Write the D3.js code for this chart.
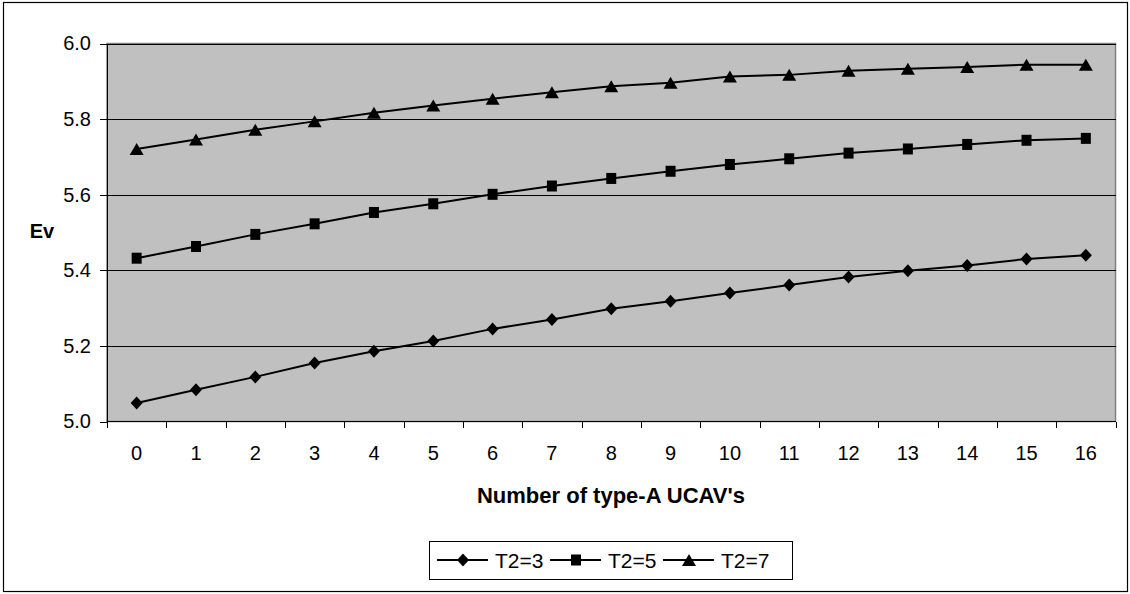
<!DOCTYPE html>
<meta charset="utf-8">
<style>
body { margin: 0; background: #fff; }
text { font-family: Arial, "Liberation Sans", sans-serif; fill: #000; }
.axis path, .axis line { fill: none; stroke: #000; shape-rendering: crispEdges; }
.grid line { stroke: #000; shape-rendering: crispEdges; }
</style>
<body>
<svg></svg>
<script src="https://cdnjs.cloudflare.com/ajax/libs/d3/7.8.5/d3.min.js"></script>
<script>

var categories = d3.range(0, 17);
var seriesNames = ["T2=3", "T2=5", "T2=7"];
var t2_3 = [5.049, 5.084, 5.118, 5.155, 5.186, 5.213, 5.245, 5.270, 5.298, 5.318, 5.340, 5.361, 5.382, 5.399, 5.413, 5.430, 5.440];
var t2_5 = [5.432, 5.463, 5.495, 5.523, 5.553, 5.576, 5.601, 5.623, 5.643, 5.662, 5.680, 5.695, 5.710, 5.721, 5.733, 5.744, 5.749];
var t2_7 = [5.721, 5.746, 5.772, 5.794, 5.817, 5.836, 5.854, 5.871, 5.887, 5.896, 5.913, 5.917, 5.928, 5.933, 5.938, 5.944, 5.944];
var yTicks = [5.0, 5.2, 5.4, 5.6, 5.8, 6.0];

var W = 1130, H = 594;
var plot = {left: 107, right: 1115.5, top: 43.5, bottom: 421.5};

var svg = d3.select("svg").attr("width", W).attr("height", H);

// outer frame
svg.append("rect")
    .attr("x", 3.5).attr("y", 2.5)
    .attr("width", 1124).attr("height", 589)
    .attr("fill", "#fff").attr("stroke", "#000").attr("stroke-width", 1.2);

var x = d3.scaleBand().domain(categories).range([plot.left, plot.right]).padding(0);
var y = d3.scaleLinear().domain([5, 6]).range([plot.bottom, plot.top]);

// plot background
svg.append("rect")
    .attr("x", plot.left).attr("y", plot.top)
    .attr("width", plot.right - plot.left).attr("height", plot.bottom - plot.top)
    .attr("fill", "#c0c0c0").attr("stroke", "#808080").attr("stroke-width", 1.5);

// gridlines
svg.append("g").attr("class", "grid")
  .selectAll("line").data(yTicks.slice(1)).enter().append("line")
    .attr("x1", plot.left).attr("x2", plot.right)
    .attr("y1", function(d) { return Math.round(y(d)) + 0.5; })
    .attr("y2", function(d) { return Math.round(y(d)) + 0.5; })
    .attr("stroke-width", 1);

// y axis
var yAxis = d3.axisLeft(y).tickValues(yTicks).tickFormat(d3.format(".1f")).tickSizeOuter(0).tickSize(7).tickPadding(9);
svg.append("g").attr("class", "axis")
    .attr("transform", "translate(" + plot.left + ",0)")
    .call(yAxis)
    .selectAll("text").style("font-size", "20px");

// x axis: ticks between categories
var boundaries = d3.range(0, categories.length + 1).map(function(i) { return plot.left + i * x.bandwidth(); });
var gx = svg.append("g").attr("class", "axis");
gx.append("line")
    .attr("x1", plot.left).attr("x2", plot.right)
    .attr("y1", plot.bottom).attr("y2", plot.bottom);
gx.selectAll(".tk").data(boundaries).enter().append("line")
    .attr("x1", function(d) { return Math.round(d) + 0.5; })
    .attr("x2", function(d) { return Math.round(d) + 0.5; })
    .attr("y1", plot.bottom).attr("y2", plot.bottom + 6);
gx.selectAll("text").data(categories).enter().append("text")
    .attr("x", function(d) { return x(d) + x.bandwidth() / 2; })
    .attr("y", 460)
    .attr("text-anchor", "middle")
    .style("font-size", "20px")
    .text(function(d) { return d; });

// axis titles
svg.append("text")
    .attr("x", 611).attr("y", 503)
    .attr("text-anchor", "middle")
    .style("font-size", "22px").style("font-weight", "bold")
    .text("Number of type-A UCAV's");

svg.append("text")
    .attr("x", 42).attr("y", 238)
    .attr("text-anchor", "middle")
    .style("font-size", "20px").style("font-weight", "bold")
    .text("Ev");

// markers
function marker(type) {
  if (type === "diamond") return "M0,-6.5L6,0L0,6.5L-6,0Z";
  if (type === "square") return "M-5,-5.5H5V5.5H-5Z";
  return "M0,-6L7,6H-7Z";
}
var series = [
  {name: seriesNames[0], values: t2_3, shape: "diamond"},
  {name: seriesNames[1], values: t2_5, shape: "square"},
  {name: seriesNames[2], values: t2_7, shape: "triangle"}
];

var line = d3.line()
    .x(function(d, i) { return x(categories[i]) + x.bandwidth() / 2; })
    .y(function(d) { return y(d); });

series.forEach(function(s) {
  svg.append("path")
      .attr("d", line(s.values))
      .attr("fill", "none").attr("stroke", "#000").attr("stroke-width", 2);
  svg.selectAll(".m-" + s.shape).data(s.values).enter().append("path")
      .attr("class", "m-" + s.shape)
      .attr("transform", function(d, i) {
        return "translate(" + (x(categories[i]) + x.bandwidth() / 2) + "," + y(d) + ")";
      })
      .attr("d", marker(s.shape))
      .attr("fill", "#000");
});

// legend
var lg = svg.append("g");
lg.append("rect")
    .attr("x", 429.5).attr("y", 541.5).attr("width", 363).attr("height", 38)
    .attr("fill", "#fff").attr("stroke", "#000").attr("stroke-width", 1);
var legendX = [437, 550, 663];
series.forEach(function(s, i) {
  var lx = legendX[i];
  lg.append("line")
      .attr("x1", lx).attr("x2", lx + 51).attr("y1", 560).attr("y2", 560)
      .attr("stroke", "#000").attr("stroke-width", 2);
  lg.append("path")
      .attr("transform", "translate(" + (lx + 26) + ",560)")
      .attr("d", marker(s.shape)).attr("fill", "#000");
  lg.append("text")
      .attr("x", lx + 58).attr("y", 567.5)
      .style("font-size", "21px")
      .text(s.name);
});

</script>
</body>
